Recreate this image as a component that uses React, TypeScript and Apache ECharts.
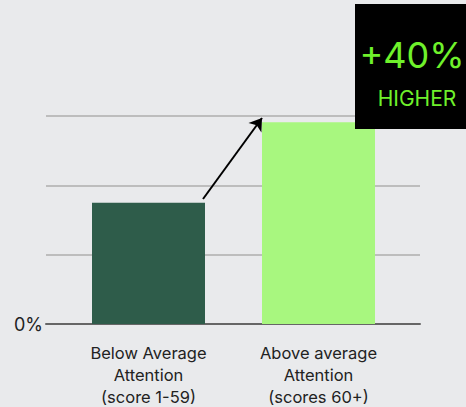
import React, { useEffect, useRef } from "react";
import * as echarts from "echarts";

const categories = [
  "Below Average\nAttention\n(score 1-59)",
  "Above average\nAttention\n(scores 60+)",
];
const values = [17.5, 29.1];
const barColors = ["#2e5c4a", "#a8f77f"];
const yTicks = [0, 10, 20, 30];
const calloutMain = "+40%";
const calloutSub = "HIGHER";

export default function App() {
  const ref = useRef<HTMLDivElement>(null);
  useEffect(() => {
    if (!ref.current) return;
    const chart = echarts.init(ref.current, null, { renderer: "svg" });
    const font = "Inter, 'Noto Sans', sans-serif";
    chart.setOption({
      animation: false,
      backgroundColor: "#e9eaec",
      grid: [
        { left: 46, right: 46, top: 116, bottom: 83, outerBoundsMode: "none", containLabel: false },
        { left: 63.5, right: 62.5, top: 116, bottom: 83, outerBoundsMode: "none", containLabel: false },
      ],
      xAxis: [
        {
          type: "value",
          gridIndex: 0,
          min: 0,
          max: 1,
          axisLine: { show: true, onZero: false, lineStyle: { color: "#666", width: 2 } },
          axisTick: { show: false },
          axisLabel: { show: false },
          splitLine: { show: false },
        },
        {
          type: "category",
          gridIndex: 1,
          data: categories,
          axisLine: { show: false },
          axisTick: { show: false },
          axisLabel: {
            margin: 18,
            color: "#222",
            fontSize: 16.5,
            lineHeight: 22,
            fontFamily: font,
            interval: 0,
          },
        },
      ],
      yAxis: [
        {
          type: "value",
          gridIndex: 0,
          min: yTicks[0],
          max: yTicks[yTicks.length - 1],
          interval: yTicks[1] - yTicks[0],
          axisLine: { show: false },
          axisTick: { show: false },
          splitLine: { show: true, lineStyle: { color: "#bdbdbd", width: 2 } },
          axisLabel: {
            margin: 3,
            color: "#222",
            fontSize: 18,
            fontFamily: font,
            formatter: (v: number) => (v === 0 ? "0%" : ""),
          },
        },
        {
          type: "value",
          gridIndex: 1,
          min: yTicks[0],
          max: yTicks[yTicks.length - 1],
          interval: yTicks[1] - yTicks[0],
          show: false,
        },
      ],
      series: [
        {
          type: "bar",
          xAxisIndex: 1,
          yAxisIndex: 1,
          barWidth: 113,
          data: values.map((v, i) => ({ value: v, itemStyle: { color: barColors[i] } })),
          markLine: {
            silent: true,
            symbolSize: 12,
            label: { show: false },
            lineStyle: { color: "#000", width: 2, type: "solid" },
            data: [
              [
                { x: 203, y: 199, symbol: "none" },
                { x: 262, y: 118, symbol: "arrow" },
              ],
            ],
          },
        },
      ],
      graphic: [
        {
          type: "rect",
          shape: { x: 355, y: 4, width: 111, height: 125 },
          style: { fill: "#000" },
          z: 100,
        },
        {
          type: "text",
          x: 412,
          y: 55,
          z: 101,
          style: {
            text: calloutMain,
            fill: "#6ff12b",
            font: "36px " + font,
            align: "center",
            verticalAlign: "middle",
          },
        },
        {
          type: "text",
          x: 417,
          y: 98,
          z: 101,
          style: {
            text: calloutSub,
            fill: "#6ff12b",
            font: "21px " + font,
            align: "center",
            verticalAlign: "middle",
          },
        },
      ],
    });
    return () => chart.dispose();
  }, []);
  return (
    <div
      ref={ref}
      style={{ position: "absolute", left: 0, top: 0, width: 466, height: 407 }}
    />
  );
}
